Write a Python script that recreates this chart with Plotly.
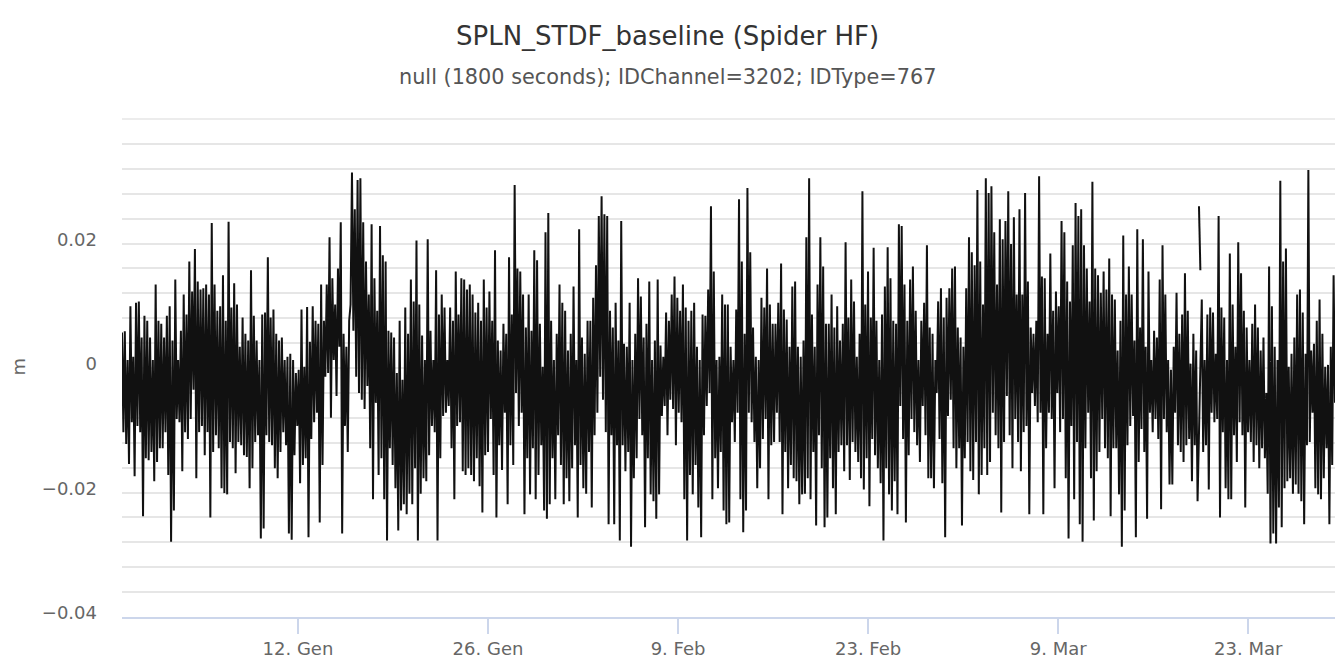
import pandas as pd
import plotly.graph_objects as go

# ---- data: readings of the black trace, in millimetres, left to right ----
# each time segment is a list of local peaks and a list of local troughs
peaks_mm_1 = [5.7, 5.9, 1.3, 9.9, 1.8, 10.5, 10.7, 4.9, 8.4, 7.6,
              4.9, 1.3, 13.4, 7.6, 7.1, 4.9, 8.4, 9.9, 4.4, 14.2,
              1.3, 6.0, 11.8, 8.6, 17.1, 12.3, 19.1, 13.9, 12.6, 12.8,
              13.4, 11.8, 23.3, 13.4, 9.2, 9.9, 14.9, 7.6, 23.5, 9.7,
              13.6, 10.2, 3.4, 8.1, 5.5, 4.4, 15.7, 8.4, 4.4, 1.3,
              8.6, 8.9, 17.8, 8.1, 9.4, 5.5, 4.4, 4.9, 1.3, 1.8,
              2.3, 1.3, -0.8, -0.3, 9.4, 0.2, 9.8, 4.2, 9.9, 7.6,
              7.1, 13.4]
troughs_mm_1 = [-10.3, -12.2, -15.4, -8.7, -17.4, -9.3, -10.3, -23.8, -14.5, -14.8,
                -13.5, -18.2, -15.1, -12.9, -12.9, -10.3, -17.2, -27.9, -22.9, -8.2,
                -8.7, -16.6, -10.3, -11.4, -8.2, -3.5, -17.7, -10.3, -9.3, -14.0,
                -10.3, -24.0, -13.5, -10.8, -12.9, -19.3, -20.1, -20.3, -11.9, -12.9,
                -16.9, -11.9, -12.4, -14.0, -14.3, -19.3, -16.1, -11.9, -10.8, -27.4,
                -25.8, -10.8, -11.9, -12.4, -16.1, -17.7, -13.5, -10.3, -12.4, -26.6,
                -27.6, -14.0, -9.3, -18.5, -15.6, -14.5, -27.2, -11.4, -8.7, -7.2,
                -24.8, -15.6]

peaks_mm_2 = [7.6, 13.4, 21.0, 14.4, 10.2, 16.0, 23.4, 5.5, 3.4, 7.6,
              31.4, 25.5, 30.2, 30.5, 23.4, 17.1, 11.8, 23.1, 14.4, 9.2,
              22.8, 18.1, 17.1, 6.0, 5.7, 4.9, -0.8, 7.6, -1.9, 9.7,
              5.5, 14.2, 10.7, 20.5, 10.2, 5.2, 1.3, 20.7, 6.0, 1.3,
              15.7, 8.6, 11.8, 9.7, 1.3, 9.7, 7.6, 15.5, 8.6, 14.4,
              14.2, 12.6, 13.4, 11.8, 8.9, 10.5, 7.6, 14.2, 9.7, 12.3,
              7.6, 18.9, 4.4, 2.8, 7.1, 5.5, 17.8, 8.6, 29.4, 16.0,
              15.5, 11.8]
troughs_mm_2 = [-1.4, -0.8, -8.0, 1.3, -4.5, 3.4, -26.6, -9.3, -13.5, 10.2,
                6.0, -1.4, -4.0, -5.1, -6.6, -2.9, -12.9, -21.1, -5.6, -17.2,
                -14.5, -21.1, -27.7, -12.9, -15.6, -19.3, -26.1, -22.9, -21.9, -23.5,
                -20.2, -21.9, -16.1, -27.7, -20.2, -17.7, -18.2, -14.0, -9.3, -10.3,
                -27.7, -14.5, -7.7, -7.2, -6.1, -12.9, -21.1, -9.3, -8.7, -16.6,
                -17.2, -16.1, -17.2, -18.2, -14.5, -19.0, -23.2, -14.0, -13.5, -8.2,
                -17.2, -24.0, -12.4, -16.4, -7.2, -21.9, -12.4, -15.6, -4.0, -9.3,
                -7.2, -23.5]

peaks_mm_3 = [6.5, 11.8, 6.0, 18.9, 17.3, 7.1, 0.2, 21.8, 24.9, 7.6,
              1.3, 5.5, 13.4, 10.5, 9.2, 2.8, 5.5, 13.1, 1.3, 22.3,
              4.9, 2.3, 7.6, 7.6, 11.3, 16.5, 24.4, 27.6, 24.7, 24.4,
              9.2, 6.5, 10.5, 4.4, 23.6, 3.9, 3.4, 10.5, 1.3, 5.5,
              14.4, 11.5, 4.9, 7.1, 13.9, 1.3, 4.4, 14.2, 3.6, 1.8,
              8.9, 7.6, 11.8, 14.7, 11.3, 9.2, 13.4, 9.7, 7.6, 9.2,
              10.5, 3.4, 1.3, 8.6, 8.4, 12.6, 26.0, 15.5, 1.3, 1.8,
              11.8, 10.2]
troughs_mm_3 = [-14.5, -20.3, -12.9, -21.1, -17.2, -12.4, -22.9, -24.2, -21.9, -14.5,
                -21.1, -10.8, -15.6, -21.9, -17.7, -21.4, -16.1, -12.4, -24.0, -15.6,
                -19.3, -20.2, -13.5, -22.4, -10.8, -7.2, -1.4, -5.1, -10.3, -25.1,
                -10.8, -25.1, -12.4, -27.7, -12.4, -16.6, -13.5, -28.7, -17.7, -14.5,
                -8.2, -10.8, -25.6, -14.5, -20.3, -21.4, -24.2, -20.3, -7.7, -6.1,
                -10.8, -5.1, -6.6, -12.4, -7.2, -8.7, -21.1, -27.7, -17.2, -20.3,
                -15.6, -22.4, -27.2, -10.8, -6.1, -4.0, -21.1, -14.5, -19.3, -13.5,
                -22.9, -25.1]

peaks_mm_4 = [10.2, 3.4, 1.3, 9.4, 27.1, 17.1, 5.5, 28.9, 18.6, 6.5,
              1.8, 1.3, 11.3, 9.7, 16.0, 10.2, 7.1, 7.1, 10.5, 16.8,
              9.4, 7.8, 3.4, 13.1, 13.9, 3.4, 1.8, 4.4, 21.0, 30.5,
              8.6, 3.4, 13.4, 21.0, 16.3, 7.1, 7.1, 11.8, 6.5, 9.9,
              4.4, 7.1, 20.2, 8.1, 14.2, 10.7, 1.8, 5.5, 28.4, 10.2,
              15.5, 8.1, 19.3, 7.6, 1.3, 8.6, 13.1, 19.4, 14.4, 7.6,
              7.1, 23.1, 22.8, 13.4, 7.6, 14.2, 16.3, 9.2, 1.3, 7.6,
              10.5, 19.7]
troughs_mm_4 = [-24.8, -8.7, -11.9, -7.2, -21.1, -26.4, -22.9, -7.2, -8.7, -11.9,
                -19.3, -16.1, -11.4, -8.2, -21.1, -12.4, -11.9, -7.2, -11.9, -23.5,
                -13.5, -19.3, -15.6, -17.7, -18.2, -21.9, -20.3, -20.2, -17.7, -21.1,
                -13.5, -25.3, -10.8, -16.1, -25.6, -24.0, -14.5, -19.3, -23.5, -13.5,
                -12.4, -16.6, -12.4, -18.0, -11.9, -13.5, -15.1, -17.7, -19.5, -14.5,
                -22.2, -11.4, -14.0, -16.1, -18.5, -27.7, -16.1, -20.3, -22.9, -18.2,
                -23.5, -6.1, -11.4, -24.8, -14.0, -8.2, -10.3, -12.4, -15.1, -6.1,
                -10.8, -17.7]

peaks_mm_5 = [6.5, 5.5, 1.3, 10.7, 12.8, 8.1, 11.3, 12.8, 16.0, 16.3,
              6.5, 4.9, 3.4, 12.8, 21.0, 18.6, 16.5, 28.6, 17.1, 10.2,
              30.5, 28.1, 29.2, 21.8, 13.4, 23.9, 20.7, 23.6, 28.4, 19.9,
              24.2, 11.8, 25.5, 11.8, 28.1, 13.9, 6.5, 5.5, 7.6, 30.8,
              14.7, 14.4, 5.5, 18.4, 9.2, 12.3, 9.9, 23.6, 21.8, 13.9,
              10.7, 19.7, 26.5, 24.4, 25.5, 19.7, 16.0, 10.7, 29.9, 16.0,
              14.9, 12.1, 15.5, 12.6, 17.6, 11.8, 11.0, 2.8, 7.6, 21.3,
              11.8, 16.3]
troughs_mm_5 = [-17.7, -19.3, -4.0, -11.4, -18.5, -27.2, -7.7, -5.1, -12.9, -16.1,
                -12.9, -25.3, -14.5, -11.9, -16.6, -18.0, -11.9, -20.3, -17.2, -12.9,
                -17.2, -15.1, -7.2, -10.8, -12.9, -23.2, -11.9, -4.5, -10.8, -16.1,
                -8.2, -11.9, -16.6, -10.3, -9.3, -23.5, -4.0, -6.1, -8.7, -7.2,
                -23.5, -12.9, -7.2, -8.2, -19.3, -4.0, -10.3, -8.2, -17.7, -27.4,
                -9.3, -21.1, -11.9, -25.1, -27.9, -12.9, -7.2, -17.7, -24.5, -16.6,
                -13.5, -8.2, -12.9, -14.5, -23.8, -12.9, -12.9, -20.3, -28.7, -22.9,
                -12.4, -9.3]

peaks_mm_6 = [11.8, 4.4, 22.3, 6.5, 20.7, 3.4, 15.5, 1.3, 6.0, 4.9,
              14.2, 19.7, 11.8, 1.3, -0.3, 3.4, 12.1, 5.5, 8.6, 15.2,
              9.2, 0.7, 5.5, 2.8, 11.0, 1.3, 8.6, 9.7, 8.9, 2.3,
              24.4, 9.7, 8.1, 1.3, 18.4, 10.2, 3.4, 20.2, 15.2, 9.2,
              6.5, 1.3, 7.1, 10.2, 6.5, 2.8, 4.9, -4.0, 16.3, 9.9,
              3.4, 1.3, 30.1, 17.1, 19.2, 0.2, 2.3, 4.9, 11.8, 12.6,
              8.9, 2.3, 31.8, 2.8, 3.9, 7.6, 11.0, 5.5, 0.2, 0.5,
              3.4, 14.9]
troughs_mm_6 = [-7.7, -27.2, -15.1, -9.8, -13.5, -24.2, -7.2, -10.3, -8.2, -11.4,
                -22.7, -8.2, -10.3, -18.7, -18.7, -7.2, -12.4, -13.5, -15.1, -12.4,
                -11.4, -18.2, -12.4, -21.4, -13.5, -12.4, -19.5, -7.2, -8.7, -8.2,
                -24.0, -10.3, -19.3, -21.1, -21.1, -10.8, -15.1, -8.7, -10.8, -22.4,
                -10.3, -11.9, -15.1, -12.4, -16.1, -12.9, -14.5, -20.2, -28.2, -26.6,
                -28.2, -22.4, -25.6, -19.3, -18.2, -17.7, -20.2, -18.7, -20.2, -21.4,
                -25.1, -12.4, -11.9, -7.2, -19.3, -20.3, -21.1, -17.7, -12.9, -25.1,
                -15.6, -5.6]

# short isolated piece (between missing samples) inside segment 6, after its 24th peak/trough pair
isolated_mm = [26.0, 15.7]
isolated_after_pair = 24

start_time = "2018-12-30 01:00"
end_time = "2019-03-29 09:25"

tick_dates = ["2019-01-12", "2019-01-26", "2019-02-09", "2019-02-23", "2019-03-09", "2019-03-23"]
tick_labels = ["12. Gen", "26. Gen", "9. Feb", "23. Feb", "9. Mar", "23. Mar"]

y_tick_vals = [-0.04, -0.02, 0, 0.02]
y_tick_text = ["\u22120.04", "\u22120.02", "0", "0.02"]


def zigzag(peaks, troughs):
    out = []
    for a, b in zip(peaks, troughs):
        out += [a, b]
    return out


k = isolated_after_pair
body = (zigzag(peaks_mm_1, troughs_mm_1) + zigzag(peaks_mm_2, troughs_mm_2)
        + zigzag(peaks_mm_3, troughs_mm_3) + zigzag(peaks_mm_4, troughs_mm_4)
        + zigzag(peaks_mm_5, troughs_mm_5) + zigzag(peaks_mm_6[:k], troughs_mm_6[:k]))
tail = zigzag(peaks_mm_6[k:], troughs_mm_6[k:])

n_iso = len(isolated_mm)
main_mm = body + [None] * n_iso + tail
iso_mm = [None] * len(body) + isolated_mm + [None] * len(tail)

to_m = lambda seq: [None if v is None else v / 1000.0 for v in seq]
times = pd.date_range(start_time, end_time, periods=len(main_mm))

FONT = "DejaVu Sans"

fig = go.Figure()
fig.add_trace(go.Scatter(
    x=times, y=to_m(main_mm), mode="lines",
    line=dict(color="#111111", width=2),
    connectgaps=True, showlegend=False, hoverinfo="skip",
))
fig.add_trace(go.Scatter(
    x=times, y=to_m(iso_mm), mode="lines",
    line=dict(color="#111111", width=2),
    connectgaps=False, showlegend=False, hoverinfo="skip",
))

W, H = 1335, 659
ML, MR, MT, MB = 122, 0, 119, 33

fig.update_layout(
    width=W, height=H,
    margin=dict(l=ML, r=MR, t=MT, b=MB, pad=0),
    paper_bgcolor="white", plot_bgcolor="white",
    font=dict(family=FONT, color="#666666"),
    showlegend=False,
    xaxis=dict(
        type="date",
        range=[start_time, end_time],
        tickvals=tick_dates, ticktext=tick_labels,
        ticks="outside", ticklen=15, tickwidth=1.5, tickcolor="#ccd6eb",
        showline=True, linecolor="#ccd6eb", linewidth=1.5,
        showgrid=False, zeroline=False,
        tickfont=dict(family=FONT, size=18, color="#666666"),
    ),
    yaxis=dict(
        range=[-0.04, 0.04],
        tickvals=y_tick_vals, ticktext=y_tick_text,
        ticks="", showline=False, zeroline=False,
        showgrid=True, gridcolor="#e6e6e6", gridwidth=1.5,
        minor=dict(dtick=0.004, tick0=0, showgrid=True, gridcolor="#e6e6e6", gridwidth=1.5),
        tickfont=dict(family=FONT, size=18, color="#666666"),
        ticklabelstandoff=24, ticklabelshift=-4,
    ),
    shapes=[dict(type="line", xref="paper", yref="paper", x0=0, x1=1, y0=1, y1=1,
                 line=dict(color="#e6e6e6", width=1.5), layer="below")],
)

fig.add_annotation(
    text="SPLN_STDF_baseline (Spider HF)", xref="paper", yref="paper",
    x=(W / 2 - ML) / (W - ML - MR), y=1 + (MT - 35) / (H - MT - MB),
    xanchor="center", yanchor="middle", showarrow=False,
    font=dict(family=FONT, size=26, color="#333333"),
)
fig.add_annotation(
    text="null (1800 seconds); IDChannel=3202; IDType=767", xref="paper", yref="paper",
    x=(W / 2 - ML) / (W - ML - MR), y=1 + (MT - 76) / (H - MT - MB),
    xanchor="center", yanchor="middle", showarrow=False,
    font=dict(family=FONT, size=20.8, color="#555555"),
)
fig.add_annotation(
    text="m", xref="paper", yref="paper",
    x=(19 - ML) / (W - ML - MR), y=1 - (371 - MT) / (H - MT - MB),
    xanchor="center", yanchor="middle", showarrow=False, textangle=-90,
    font=dict(family=FONT, size=18, color="#666666"),
)

fig.write_html("out.html")
